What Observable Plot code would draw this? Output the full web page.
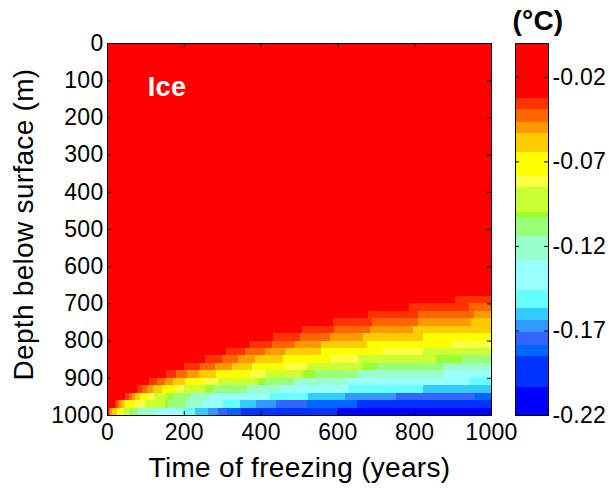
<!DOCTYPE html>
<html>
<head>
<meta charset="utf-8">
<script src="https://cdn.jsdelivr.net/npm/d3@7"></script>
<script src="https://cdn.jsdelivr.net/npm/@observablehq/plot@0.6"></script>
<style>
  body { margin: 0; background: #fff; }
  #wrap { position: relative; width: 609px; height: 492px; background: #fff; }
  #wrap svg { position: absolute; top: 0; overflow: visible; }
</style>
</head>
<body>
<div id="wrap"></div>
<script>
// ---- Data ----
const timeDomain = [0, 1000];
const depthDomain = [0, 1000];
const xTicks = [0, 200, 400, 600, 800, 1000];
const yTicks = [0, 100, 200, 300, 400, 500, 600, 700, 800, 900, 1000];
const colorbarDomain = [-0.22, 0];
const colorbarTicks = [-0.22, -0.17, -0.12, -0.07, -0.02];

// colour levels, warm (level 0 = ice red) to cold
const levelColors = ["#FF0000","#FF3300","#FF6600","#FF9900","#FFCC00","#FFFF00","#FFFF44","#CCFF33","#99FF33","#99FF77","#99FFCC","#99FFFF","#66FFFF","#33CCFF","#3399FF","#3366FF","#0066FF","#0033FF","#0000FF"];
// band boundaries between consecutive levels (°C), warm to cold
const levelThresholds = [-0.0325,-0.0393,-0.0466,-0.0533,-0.0643,-0.0785,-0.0854,-0.0999,-0.1034,-0.1139,-0.1281,-0.1458,-0.1567,-0.1641,-0.1711,-0.1784,-0.1852,-0.2032];
// representative temperature of a cell of each level (°C)
const levelTemps = [-0.015,-0.036,-0.043,-0.050,-0.059,-0.071,-0.082,-0.093,-0.1017,-0.109,-0.121,-0.137,-0.151,-0.160,-0.1676,-0.175,-0.182,-0.194,-0.212];

// depth rows (m), top to bottom
const rowEdges = [0, 680, 700, 720, 740, 760, 780, 800, 820, 840, 860, 880, 900, 920, 940, 960, 980, 1000];
// for each row: time (years) at which level 1, 2, 3 ... begins
const levelStarts = [
  [],
  [906],
  [787, 944],
  [680, 809, 956],
  [589, 691, 809, 948],
  [507, 591, 685, 796],
  [433, 502, 580, 667, 824],
  [370, 429, 490, 556, 676, 895],
  [310, 359, 411, 464, 556, 720, 824],
  [255, 299, 342, 385, 459, 581, 654, 858, 924],
  [200, 242, 281, 325, 377, 464, 520, 663, 702, 876],
  [153, 180, 208, 240, 283, 372, 414, 511, 541, 652, 878],
  [110, 130, 150, 172, 203, 253, 290, 394, 414, 487, 628, 945],
  [77, 91, 105, 121, 142, 177, 200, 254, 275, 365, 450, 631, 822],
  [47, 56, 64, 74, 87, 108, 122, 155, 172, 215, 268, 424, 524, 619, 753, 958],
  [22, 27, 32, 38, 46, 72, 100, 150, 160, 207, 251, 303, 346, 388, 441, 522, 650],
  [4, 6, 9, 12, 25, 38, 42, 60, 64, 82, 129, 199, 229, 264, 290, 312, 350, 602]
];
const annotations = [{t: 105, depth: 118, text: "Ice"}];

// ---- Build tables ----
const cells = [];
levelStarts.forEach((starts, i) => {
  const b = [timeDomain[0], ...starts, timeDomain[1]];
  for (let k = 0; k < b.length - 1; k++) {
    if (b[k + 1] > b[k]) cells.push({t1: b[k], t2: b[k + 1], d1: rowEdges[i], d2: rowEdges[i + 1], temp: levelTemps[k]});
  }
});
const color = {type: "threshold", domain: [...levelThresholds].reverse(), range: [...levelColors].reverse()};
const cbEdges = [colorbarDomain[0], ...[...levelThresholds].reverse(), colorbarDomain[1]];
const bands = d3.pairs(cbEdges).map(([lo, hi]) => ({lo, hi, mid: (lo + hi) / 2}));

const font = "'Liberation Sans', Arial, Helvetica, sans-serif";
const plain = d => String(d);

const main = Plot.plot({
  width: 609, height: 492,
  marginLeft: 107, marginRight: 118, marginTop: 43, marginBottom: 77,
  x: {domain: timeDomain},
  y: {domain: depthDomain, reverse: true},
  color,
  style: {fontFamily: font, fontSize: "23px", color: "black", background: "white", letterSpacing: "0.3px"},
  marks: [
    Plot.rect(cells, {x1: "t1", x2: "t2", y1: "d1", y2: "d2", fill: "temp", shapeRendering: "crispEdges"}),
    Plot.text(annotations, {x: "t", y: "depth", text: "text", fill: "white", fontWeight: "bold", fontSize: 27, textAnchor: "start"}),
    Plot.frame({stroke: "black"}),
    Plot.tickX(xTicks, {x: d => d, insetTop: 368, stroke: "black"}),
    Plot.tickX(xTicks, {x: d => d, insetBottom: 368, stroke: "black"}),
    Plot.tickY(yTicks, {y: d => d, insetRight: 380, stroke: "black"}),
    Plot.tickY(yTicks, {y: d => d, insetLeft: 380, stroke: "black"}),
    Plot.axisX({ticks: xTicks, tickSize: 0, tickPadding: 8, tickFormat: plain, label: null}),
    Plot.axisY({ticks: yTicks, tickSize: 0, tickPadding: 4, tickFormat: plain, label: null}),
    Plot.text(["Time of freezing (years)"], {frameAnchor: "bottom", dy: 61, fontSize: 28, letterSpacing: "0.8px"}),
    Plot.text(["Depth below surface (m)"], {frameAnchor: "left", textAnchor: "middle", dx: -83, dy: -5, rotate: -90, fontSize: 28, letterSpacing: "0.3px"})
  ]
});

const cb = Plot.plot({
  width: 96, height: 492,
  marginLeft: 2, marginRight: 61, marginTop: 43, marginBottom: 77,
  y: {domain: colorbarDomain},
  color,
  style: {fontFamily: font, fontSize: "23px", color: "black", background: "transparent", letterSpacing: "0.2px"},
  marks: [
    Plot.rect(bands, {y1: "lo", y2: "hi", fill: "mid", shapeRendering: "crispEdges"}),
    Plot.frame({stroke: "black"}),
    Plot.tickY(colorbarTicks, {y: d => d, insetRight: 29, stroke: "black"}),
    Plot.tickY(colorbarTicks, {y: d => d, insetLeft: 29, stroke: "black"}),
    Plot.axisY({anchor: "right", ticks: colorbarTicks, tickSize: 0, tickPadding: 4, tickFormat: d => d.toFixed(2), label: null}),
    Plot.text(["(°C)"], {frameAnchor: "top-left", textAnchor: "start", lineAnchor: "middle", dx: -3, dy: -22, fontWeight: "bold", fontSize: 28, letterSpacing: "7px"})
  ]
});
cb.style.left = "513px";

const wrap = document.getElementById("wrap");
wrap.appendChild(main);
wrap.appendChild(cb);
</script>
</body>
</html>
